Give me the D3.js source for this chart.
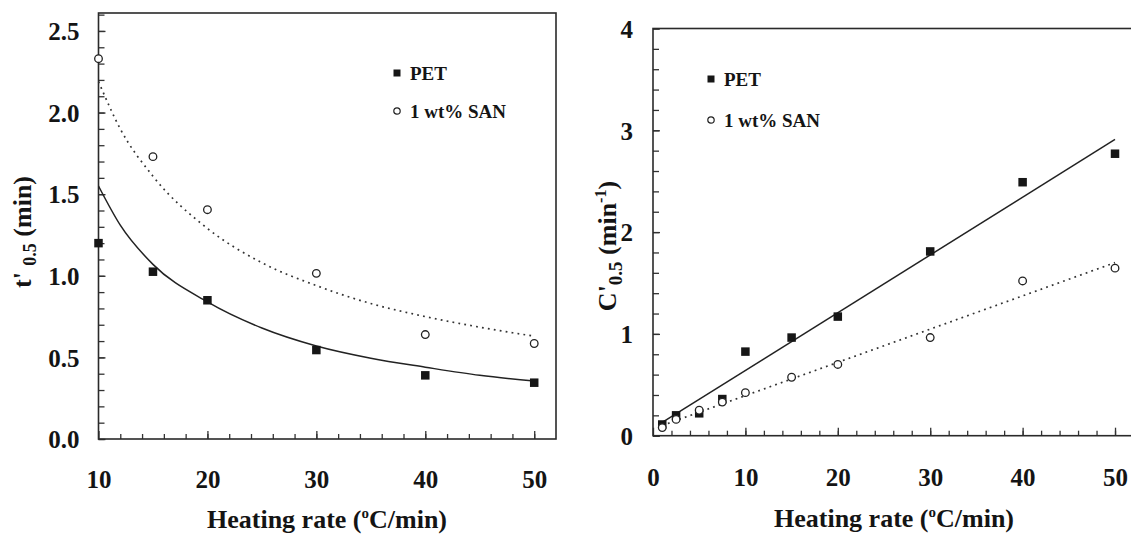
<!DOCTYPE html>
<html>
<head>
<meta charset="utf-8">
<script src="https://cdn.jsdelivr.net/npm/d3@7"></script>
<style>
    html, body { margin: 0; padding: 0; background: #fff; }
    svg { display: block; }
    text { font-family: "Liberation Serif", "Times New Roman", serif; font-weight: bold; fill: #141414; }
</style>
</head>
<body>
<div id="ground"></div>
<script>
// series names (legend)
const seriesNames = ["PET", "1 wt% SAN"];

// left panel: t'0.5 vs heating rate
const leftRates = [10, 15, 20, 30, 40, 50];
const leftPET = [1.2, 1.025, 0.85, 0.545, 0.39, 0.345];
const leftSAN = [2.33, 1.73, 1.405, 1.015, 0.64, 0.585];
// fitted curves
const leftFitRates = [10, 12, 15, 20, 25, 30, 35, 40, 45, 50];
const leftFitPET = [1.55, 1.31, 1.07, 0.84, 0.68, 0.57, 0.495, 0.44, 0.39, 0.355];
const leftFitSAN = [2.19, 1.90, 1.61, 1.29, 1.08, 0.94, 0.83, 0.75, 0.685, 0.63];
const leftXLabels = [10, 20, 30, 40, 50];
const leftYLabels = [0, 0.5, 1, 1.5, 2, 2.5];

// right panel: C'0.5 vs heating rate
const rightRates = [1, 2.5, 5, 7.5, 10, 15, 20, 30, 40, 50];
const rightPET = [0.11, 0.2, 0.22, 0.36, 0.826, 0.964, 1.17, 1.81, 2.49, 2.77];
const rightSAN = [0.08, 0.16, 0.25, 0.33, 0.423, 0.574, 0.70, 0.964, 1.52, 1.646];
const rightFitRates = [1, 50];
const rightFitPET = [0.13, 2.91];
const rightFitSAN = [0.1, 1.7];
const rightXLabels = [0, 10, 20, 30, 40, 50];
const rightYLabels = [0, 1, 2, 3, 4];

document.addEventListener("DOMContentLoaded", function () {

    const W = 1131, H = 535,
        ink = "#161616";

    let svg = d3.select("#ground")
        .append("svg")
        .attr("width", W)
        .attr("height", H);

    let zip = function (xs, ys) {
        return xs.map((x, i) => ({x: x, y: ys[i]}));
    };

    let styleAxis = function (g, len) {
        g.select(".domain").remove();
        g.selectAll(".tick line").attr("stroke", "#333").attr("stroke-width", 1.3);
        g.selectAll("text").style("font-size", "25px").attr("fill", ink);
    };

    let drawPanel = function (p) {

        let x = d3.scaleLinear().domain(p.xDomain).range(p.xRange),
            y = d3.scaleLinear().domain(p.yDomain).range(p.yRange);

        let gr = svg.append("g");

        // minor ticks
        gr.append("g")
            .attr("transform", `translate(0,${p.yRange[0]})`)
            .call(d3.axisBottom(x).tickValues(p.xMinor).tickSize(-5).tickFormat(""))
            .call(styleAxis);
        gr.append("g")
            .attr("transform", `translate(${p.xRange[0]},0)`)
            .call(d3.axisLeft(y).tickValues(p.yMinor).tickSize(-6).tickFormat(""))
            .call(styleAxis);

        // major ticks + labels
        let xa = gr.append("g")
            .attr("transform", `translate(0,${p.yRange[0]})`)
            .call(d3.axisBottom(x).tickValues(p.xLabels).tickSize(-8).tickFormat(d3.format("d")))
            .call(styleAxis);
        xa.selectAll("text").attr("y", p.xLabelOffset).attr("dy", "0.35em");

        let ya = gr.append("g")
            .attr("transform", `translate(${p.xRange[0]},0)`)
            .call(d3.axisLeft(y).tickValues(p.yLabels).tickSize(-7).tickPadding(p.yLabelPad).tickFormat(p.yFormat))
            .call(styleAxis);
        ya.selectAll("text").attr("dy", "0.35em");

        // frame
        gr.append("rect")
            .attr("x", p.xRange[0])
            .attr("y", p.yRange[1])
            .attr("width", p.xRange[1] - p.xRange[0])
            .attr("height", p.yRange[0] - p.yRange[1])
            .attr("fill", "none")
            .attr("stroke", "#2a2a2a")
            .attr("stroke-width", 1.6);

        // fitted lines
        let line = d3.line()
            .x(d => x(d.x))
            .y(d => y(d.y))
            .curve(d3.curveMonotoneX);

        gr.append("path")
            .attr("d", line(zip(p.fitX, p.fitSAN)))
            .attr("fill", "none")
            .attr("stroke", "#333")
            .attr("stroke-width", 1.7)
            .attr("stroke-dasharray", "1.8 4.2");

        gr.append("path")
            .attr("d", line(zip(p.fitX, p.fitPET)))
            .attr("fill", "none")
            .attr("stroke", "#222")
            .attr("stroke-width", 1.5);

        // markers
        const sq = 8.5;
        gr.selectAll(".pet")
            .data(zip(p.rates, p.pet))
            .enter().append("rect")
            .attr("x", d => x(d.x) - sq / 2)
            .attr("y", d => y(d.y) - sq / 2)
            .attr("width", sq)
            .attr("height", sq)
            .attr("fill", ink);

        gr.selectAll(".san")
            .data(zip(p.rates, p.san))
            .enter().append("circle")
            .attr("cx", d => x(d.x))
            .attr("cy", d => y(d.y))
            .attr("r", 3.8)
            .attr("fill", "#fff")
            .attr("stroke", "#222")
            .attr("stroke-width", 1.3);

        // legend
        let lg = gr.append("g").attr("transform", `translate(${p.legend[0]},${p.legend[1]})`);
        lg.append("rect")
            .attr("x", -3.5).attr("y", -3.5)
            .attr("width", 7).attr("height", 7)
            .attr("fill", ink);
        lg.append("circle")
            .attr("cx", 0).attr("cy", p.legendGap)
            .attr("r", 3.2)
            .attr("fill", "#fff")
            .attr("stroke", "#222")
            .attr("stroke-width", 1.2);
        seriesNames.forEach(function (name, i) {
            lg.append("text")
                .attr("x", 13)
                .attr("y", i * p.legendGap)
                .attr("dy", "0.35em")
                .style("font-size", "19px")
                .text(name);
        });

        // x title
        let xt = gr.append("text")
            .attr("x", p.xTitle[0])
            .attr("y", p.xTitle[1])
            .attr("dy", "0.35em")
            .attr("text-anchor", "middle")
            .style("font-size", "26px");
        xt.append("tspan").text("Heating rate (");
        xt.append("tspan").attr("dy", -10).style("font-size", "15px").text("o");
        xt.append("tspan").attr("dy", 10).text("C/min)");

        // y title
        let yt = gr.append("text")
            .attr("transform", `translate(${p.yTitle[0]},${p.yTitle[1]}) rotate(-90)`)
            .attr("text-anchor", "middle")
            .style("font-size", "26px");
        p.yTitleParts.forEach(function (part) {
            yt.append("tspan")
                .attr("dy", part.dy)
                .style("font-size", part.size + "px")
                .text(part.t);
        });
    };

    drawPanel({
        xDomain: [10, 52], xRange: [98.5, 556],
        yDomain: [0, 2.61], yRange: [439, 13],
        xMinor: d3.range(12, 50.5, 2), yMinor: d3.range(0, 2.61, 0.1),
        xLabels: leftXLabels, yLabels: leftYLabels,
        yFormat: d3.format(".1f"), yLabelPad: 19, xLabelOffset: 40,
        rates: leftRates, pet: leftPET, san: leftSAN,
        fitX: leftFitRates, fitPET: leftFitPET, fitSAN: leftFitSAN,
        legend: [397, 73], legendGap: 38,
        xTitle: [327, 519],
        yTitle: [31, 232],
        yTitleParts: [
            {t: "t'\u00a0", size: 26, dy: 0},
            {t: "0.5", size: 18, dy: 5},
            {t: " (min)", size: 26, dy: -5}
        ]
    });

    drawPanel({
        xDomain: [0, 52], xRange: [653, 1133.5],
        yDomain: [0, 4], yRange: [435.7, 28.5],
        xMinor: d3.range(2, 52.5, 2), yMinor: d3.range(0, 4.01, 0.2),
        xLabels: rightXLabels, yLabels: rightYLabels,
        yFormat: d3.format("d"), yLabelPad: 20, xLabelOffset: 42,
        rates: rightRates, pet: rightPET, san: rightSAN,
        fitX: rightFitRates, fitPET: rightFitPET, fitSAN: rightFitSAN,
        legend: [711, 79], legendGap: 41,
        xTitle: [894, 518],
        yTitle: [616, 246],
        yTitleParts: [
            {t: "C'", size: 26, dy: 0},
            {t: "0.5", size: 19, dy: 6},
            {t: " (min", size: 26, dy: -6},
            {t: "-1", size: 16, dy: -10},
            {t: ")", size: 26, dy: 10}
        ]
    });

});
</script>
</body>
</html>
